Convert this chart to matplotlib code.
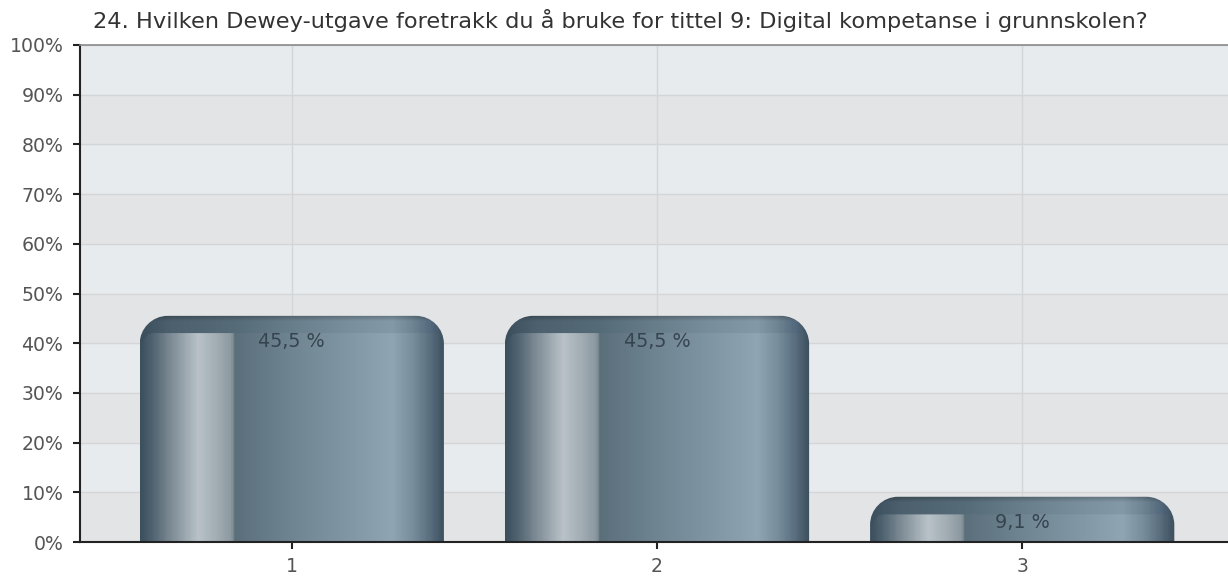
import numpy as np
import matplotlib
matplotlib.use("Agg")
import matplotlib.pyplot as plt
from matplotlib.colors import LinearSegmentedColormap
from matplotlib.path import Path
from matplotlib.patches import PathPatch

title = "24. Hvilken Dewey-utgave foretrakk du å bruke for tittel 9: Digital kompetanse i grunnskolen?"
categories = ["1", "2", "3"]
values = [45.5, 45.5, 9.1]
value_labels = ["45,5 %", "45,5 %", "9,1 %"]
yticks = list(range(0, 101, 10))
ytick_labels = [f"{v}%" for v in yticks]

plt.rcParams['font.family'] = ['DejaVu Sans']

W, H, DPI = 1228, 579, 100
fig = plt.figure(figsize=(W / DPI, H / DPI), dpi=DPI)
fig.patch.set_facecolor("white")
ax = fig.add_axes([80 / W, 1 - 542 / H, (1234 - 80) / W, (542 - 45) / H])
ax.set_xlim(-0.58, 2.58)
ax.set_ylim(0, 100)

# background bands
for i in range(10):
    ax.axhspan(i * 10, (i + 1) * 10, color="#e3e4e6" if i % 2 == 0 else "#e8ebee",
               zorder=0, lw=0)
for y in yticks[1:]:
    ax.axhline(y, color="#d3d5d7", lw=1, zorder=0.5)
x = np.arange(len(categories))
for xx in x:
    ax.axvline(xx, color="#d3d5d7", lw=1, zorder=0.5)

bar_w = 0.833
bars = ax.bar(x, values, bar_w, color="none", edgecolor="none", zorder=2)

body = LinearSegmentedColormap.from_list("body", [
    (0.00, "#3a4e5c"), (0.04, "#4f6370"), (0.10, "#7d8b95"), (0.19, "#b9c2c8"),
    (0.25, "#a2adb4"), (0.30, "#8b989f"), (0.31, "#5b6f7b"), (0.50, "#6f8592"),
    (0.70, "#8398a6"), (0.83, "#8fa5b3"), (0.90, "#768c9a"), (0.96, "#55697a"),
    (1.00, "#3b4f5d")])
cap = LinearSegmentedColormap.from_list("cap", [
    (0.00, "#3a4e5c"), (0.10, "#4c606d"), (0.31, "#566b78"), (0.50, "#687e8b"),
    (0.70, "#7a909e"), (0.83, "#8399a7"), (0.90, "#6d8391"), (0.96, "#51667a"),
    (1.00, "#3b4f5d")])

fig.canvas.draw()
to_px = ax.transData
r_px = 28.0
cap_px = 18.0
inner_r = 12.0


def rounded_top_path(x0, x1, h, rx, ry):
    k = 0.5523
    verts = [(x0, 0), (x0, h - ry),
             (x0, h - ry + k * ry), (x0 + rx - k * rx, h), (x0 + rx, h),
             (x1 - rx, h),
             (x1 - rx + k * rx, h), (x1, h - ry + k * ry), (x1, h - ry),
             (x1, 0), (x0, 0)]
    codes = [Path.MOVETO, Path.LINETO, Path.CURVE4, Path.CURVE4, Path.CURVE4,
             Path.LINETO, Path.CURVE4, Path.CURVE4, Path.CURVE4,
             Path.LINETO, Path.CLOSEPOLY]
    return Path(verts, codes)


for rect, lab in zip(bars, value_labels):
    x0 = rect.get_x()
    x1 = x0 + rect.get_width()
    h = rect.get_height()
    (px0, py0), (px1, py1) = to_px.transform([(x0, 0), (x1, h)])
    wpx = int(round(px1 - px0))
    hpx = int(round(py1 - py0))
    u = (np.arange(wpx) + 0.5) / wpx
    t = np.arange(hpx) + 0.5  # distance from top in px
    U, T = np.meshgrid(u, t)
    Xp = U * wpx
    img = body(U)
    capc = cap(U)
    in_cap = T < cap_px
    cx, cy = 2 + inner_r, cap_px + inner_r
    corner = (Xp < cx) & (T < cy) & ((Xp - cx) ** 2 + (T - cy) ** 2 > inner_r ** 2)
    mask = (in_cap | corner)
    img[mask] = capc[mask]
    topdark = np.clip(1 - T / 6.0, 0, 1)[..., None] * 0.25
    img[..., :3] = img[..., :3] * (1 - topdark)
    rx = r_px * (x1 - x0) / (px1 - px0)
    ry = r_px * h / (py1 - py0)
    im = ax.imshow(img, extent=(x0, x1, 0, h), origin="upper", aspect="auto",
                   zorder=2, interpolation="bilinear")
    patch = PathPatch(rounded_top_path(x0, x1, h, rx, ry), facecolor="none",
                      edgecolor="none", transform=ax.transData)
    ax.add_patch(patch)
    im.set_clip_path(patch)
    ax.text(rect.get_x() + rect.get_width() / 2, h - 5.2, lab, ha="center", va="center",
            fontsize=13.8, color="#364450", zorder=3)

ax.set_xlim(-0.58, 2.58)
ax.set_ylim(0, 100)
ax.set_xticks(x)
ax.set_xticklabels(categories)
ax.set_yticks(yticks)
ax.set_yticklabels(ytick_labels)
ax.tick_params(axis="both", colors="#222222", labelcolor="#555555", labelsize=13.6,
               length=5, width=1.5, direction="out")
ax.tick_params(axis="x", pad=6)
ax.tick_params(axis="y", pad=7)
ax.spines["right"].set_visible(False)
ax.spines["top"].set_color("#8a8a8a")
ax.spines["top"].set_linewidth(1.2)
ax.spines["left"].set_color("#222222")
ax.spines["left"].set_linewidth(1.5)
ax.spines["bottom"].set_color("#222222")
ax.spines["bottom"].set_linewidth(1.5)

fig.text(93 / W, 1 - 21 / H, title, ha="left", va="center", fontsize=16.2, color="#333333")

fig.savefig("out.png", dpi=DPI)
